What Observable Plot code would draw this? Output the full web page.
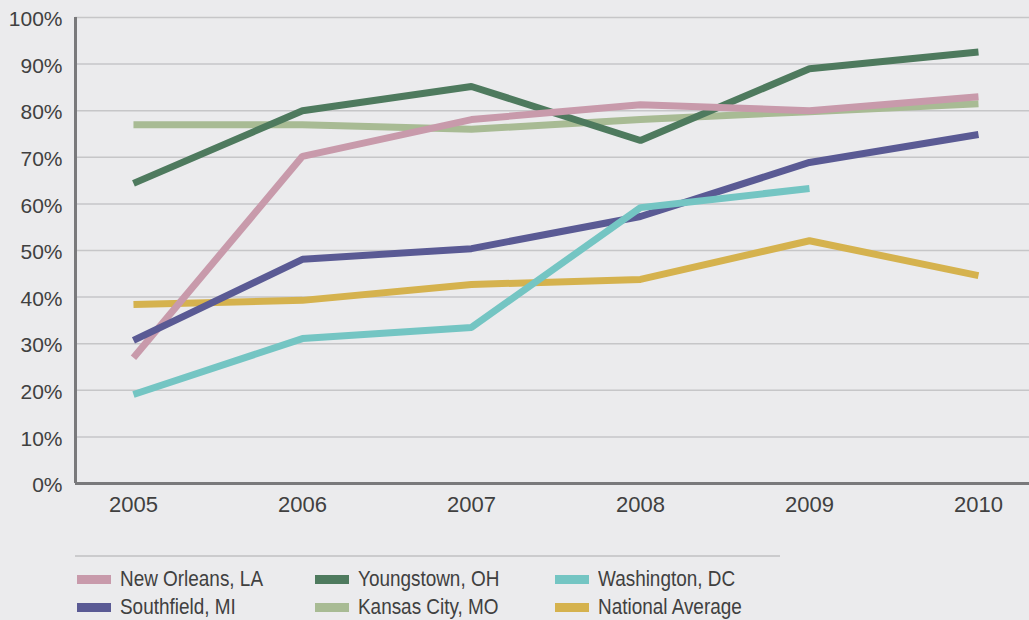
<!DOCTYPE html>
<html>
<head>
<meta charset="utf-8">
<script src="https://cdn.jsdelivr.net/npm/d3@7"></script>
<script src="https://cdn.jsdelivr.net/npm/@observablehq/plot@0.6"></script>
<style>
  html, body { margin: 0; padding: 0; background: #ebebed; }
  #wrap { position: relative; width: 1029px; height: 620px; overflow: hidden; }
  #legend { position: absolute; left: 75px; top: 555px; width: 705px; border-top: 2px solid #cbcbcd; }
  .item { position: absolute; display: flex; align-items: center; height: 28px;
          font-family: "Liberation Sans", Arial, sans-serif;
          font-size: 22px; color: #404040; white-space: nowrap; }
  .sw { width: 34px; height: 9px; margin-right: 9px; flex: none; }
  .lbl { display: inline-block; transform: scaleX(0.86); transform-origin: left center; }
</style>
</head>
<body>
<div id="wrap"><div id="chart"></div><div id="legend"></div></div>
<script>
const years = [2005, 2006, 2007, 2008, 2009, 2010];
const seriesNames = ["New Orleans, LA", "Youngstown, OH", "Washington, DC", "Southfield, MI", "Kansas City, MO", "National Average"];
const seriesColors = ["#c89aab", "#4e7a5e", "#74c5c3", "#5a5a94", "#a8bb94", "#d5b24e"];
const newOrleans = [27, 70.2, 78.1, 81.3, 80.0, 83.0];
const youngstown = [64.4, 80.0, 85.2, 73.6, 89.0, 92.6];
const washington = [19.1, 31.1, 33.5, 59.2, 63.3, null];
const southfield = [30.7, 48.1, 50.4, 57.3, 68.9, 74.9];
const kansasCity = [77.0, 77.0, 76.0, 78.1, 79.8, 81.5];
const nationalAvg = [38.4, 39.3, 42.7, 43.8, 52.1, 44.6];
const yTicks = [0, 10, 20, 30, 40, 50, 60, 70, 80, 90, 100];

const valuesBySeries = [newOrleans, youngstown, washington, southfield, kansasCity, nationalAvg];
// drawing order bottom -> top
const drawOrder = [5, 4, 1, 0, 3, 2];
const rows = [];
drawOrder.forEach(si => {
  years.forEach((yr, i) => {
    const v = valuesBySeries[si][i];
    if (v != null) rows.push({series: seriesNames[si], year: yr, value: v});
  });
});

const font = "Liberation Sans, Arial, sans-serif";
const xMin = 2004.657, xMax = 2010.302;
const plot = Plot.plot({
  width: 1029,
  height: 535,
  marginLeft: 75,
  marginRight: 0,
  marginTop: 17,
  marginBottom: 52,
  style: {background: "#ebebed", fontSize: "20px", fontFamily: font, color: "#404040"},
  x: {domain: [xMin, xMax], axis: null, label: null},
  y: {domain: [0, 100], axis: null, label: null},
  color: {domain: seriesNames, range: seriesColors},
  marks: [
    Plot.ruleY(yTicks.filter(d => d > 0), {stroke: "#c6c6c8", strokeWidth: 1.5}),
    Plot.lineY(rows, {x: "year", y: "value", z: "series", stroke: "series", strokeWidth: 7,
      strokeLinecap: "butt", strokeLinejoin: "miter"}),
    Plot.ruleX([xMin], {stroke: "#79797b", strokeWidth: 3}),
    Plot.ruleY([0], {stroke: "#79797b", strokeWidth: 3}),
    Plot.axisY(yTicks, {tickSize: 0, tickPadding: 13, tickFormat: d => d + "%", fill: "#404040",
      label: null, fontSize: 21, fontFamily: font, dy: 2}),
    Plot.axisX(years, {tickSize: 0, tickPadding: 13, tickFormat: d => String(d), fill: "#404040",
      label: null, fontSize: 22, fontFamily: font})
  ]
});
document.getElementById("chart").appendChild(plot);

const legend = document.getElementById("legend");
const colLeft = [2, 240, 480];
seriesNames.forEach((name, i) => {
  const col = i % 3, row = Math.floor(i / 3);
  const el = document.createElement("div");
  el.className = "item";
  el.style.left = colLeft[col] + "px";
  el.style.top = (8 + row * 28) + "px";
  const sw = document.createElement("span");
  sw.className = "sw";
  sw.style.background = seriesColors[i];
  el.appendChild(sw);
  const t = document.createElement("span");
  t.className = "lbl";
  t.textContent = name;
  el.appendChild(t);
  legend.appendChild(el);
});
</script>
</body>
</html>
